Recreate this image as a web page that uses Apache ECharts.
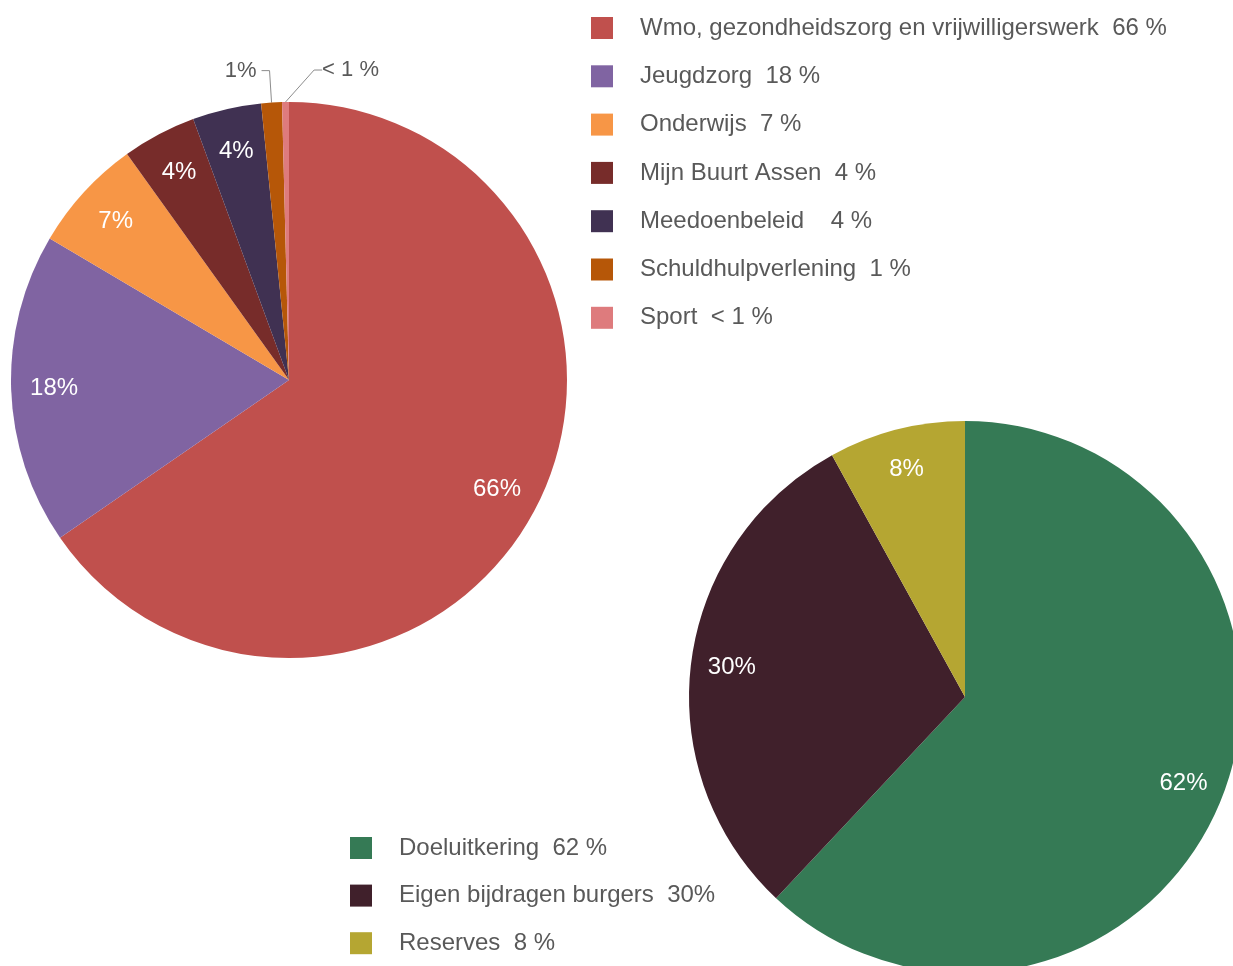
<!DOCTYPE html>
<html>
<head>
<meta charset="utf-8">
<script src="https://cdn.jsdelivr.net/npm/echarts@6/dist/echarts.min.js"></script>
<style>
  html, body { margin: 0; padding: 0; background: #fff; }
  #chart { width: 1233px; height: 966px; }
</style>
</head>
<body>
<div id="chart"></div>
<script>
// linker taart: uitgaven
const names1 = ['Wmo, gezondheidszorg en vrijwilligerswerk', 'Jeugdzorg', 'Onderwijs', 'Mijn Buurt Assen', 'Meedoenbeleid', 'Schuldhulpverlening', 'Sport'];
const values1 = [65.4, 18.1, 6.6, 4.3, 4.0, 1.2, 0.4];
const labels1 = ['66%', '18%', '7%', '4%', '4%', '1%', '< 1 %'];
const legendPct1 = ['66 %', '18 %', '7 %', '4 %', '  4 %', '1 %', '< 1 %'];
const colors1 = ['#c0504d', '#8064a2', '#f79646', '#772c2a', '#403152', '#b65708', '#de7b7d'];

// rechter taart: dekking
const names2 = ['Doeluitkering', 'Eigen bijdragen burgers', 'Reserves'];
const values2 = [62, 30, 8];
const labels2 = ['62%', '30%', '8%'];
const legendPct2 = ['62 %', '30%', '8 %'];
const colors2 = ['#357a55', '#40202b', '#b5a632'];

const FONT = 'Liberation Sans';
const chart = echarts.init(document.getElementById('chart'));

function pieData(names, values, colors) {
  return names.map((n, i) => ({ name: n, value: values[i], itemStyle: { color: colors[i] } }));
}

// transparante ring alleen voor de labels (zo komen ze verder naar buiten)
function labelData(names, values, outsideFrom) {
  return names.map((n, i) => {
    const d = { name: n, value: values[i] };
    if (i >= outsideFrom) {
      d.label = { position: 'outside', color: '#595959', fontSize: 22 };
      d.labelLine = { show: true };
    }
    return d;
  });
}

const legendBase = {
  orient: 'vertical',
  padding: 0,
  itemWidth: 22,
  itemHeight: 22,
  icon: 'rect',
  textStyle: { fontFamily: FONT, fontSize: 24, color: '#595959', lineHeight: 22, padding: [0, 0, 0, 22] }
};

const option = {
  animation: false,
  backgroundColor: '#fff',
  legend: [
    Object.assign({}, legendBase, {
      left: 591, top: 16, itemGap: 24.3,
      data: names1,
      formatter: name => name + '  ' + legendPct1[names1.indexOf(name)]
    }),
    Object.assign({}, legendBase, {
      left: 350, top: 836, itemGap: 23.6,
      data: names2,
      formatter: name => name + '  ' + legendPct2[names2.indexOf(name)]
    })
  ],
  series: [
    {
      type: 'pie',
      center: [289, 380],
      radius: 278,
      startAngle: 90,
      label: { show: false },
      labelLine: { show: false },
      itemStyle: { borderWidth: 0 },
      emphasis: { disabled: true },
      data: pieData(names1, values1, colors1)
    },
    {
      type: 'pie',
      center: [965, 697],
      radius: 276,
      startAngle: 90,
      label: { show: false },
      labelLine: { show: false },
      itemStyle: { borderWidth: 0 },
      emphasis: { disabled: true },
      data: pieData(names2, values2, colors2)
    },
    {
      type: 'pie',
      center: [289, 380],
      radius: [186, 278],
      startAngle: 90,
      silent: true,
      avoidLabelOverlap: false,
      itemStyle: { color: 'rgba(0,0,0,0)', borderWidth: 0 },
      label: {
        position: 'inside',
        fontFamily: FONT,
        fontSize: 24,
        color: '#fff',
        formatter: p => labels1[p.dataIndex]
      },
      labelLine: { length: 32, length2: 8, lineStyle: { color: '#8c8c8c', width: 1 } },
      labelLayout: function (p) {
        if (p.dataIndex === 6) {
          return { x: p.labelRect.x + p.labelRect.width + 50, align: 'left' };
        }
      },
      data: labelData(names1, values1, 5)
    },
    {
      type: 'pie',
      center: [965, 697],
      radius: [188, 276],
      startAngle: 90,
      silent: true,
      avoidLabelOverlap: false,
      itemStyle: { color: 'rgba(0,0,0,0)', borderWidth: 0 },
      label: {
        position: 'inside',
        fontFamily: FONT,
        fontSize: 24,
        color: '#fff',
        formatter: p => labels2[p.dataIndex]
      },
      data: labelData(names2, values2, 99)
    }
  ]
};

chart.setOption(option);
</script>
</body>
</html>
